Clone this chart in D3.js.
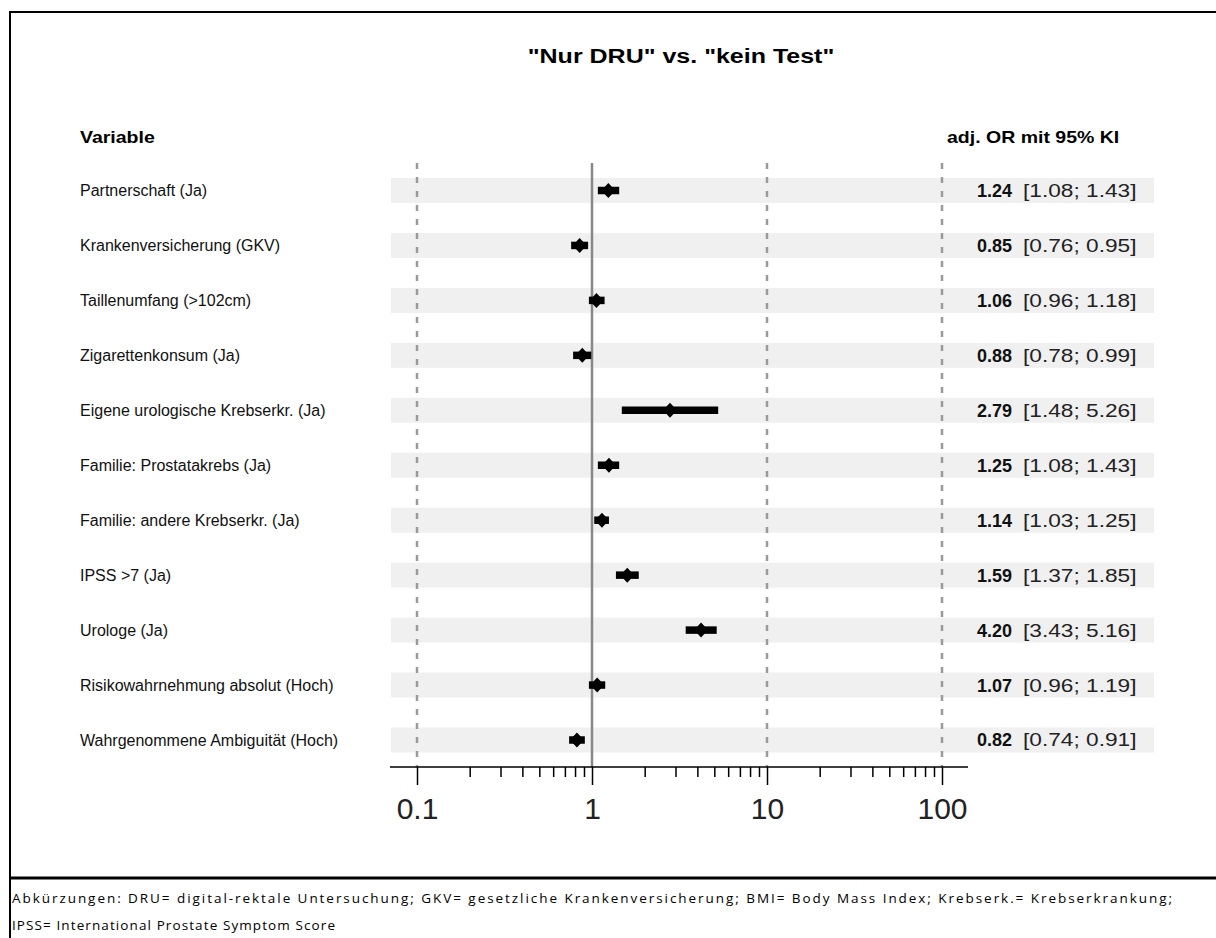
<!DOCTYPE html>
<html>
<head>
<meta charset="utf-8">
<script src="https://cdn.jsdelivr.net/npm/d3@7"></script>
<style>
  body { margin: 0; background: #fff; }
  svg { display: block; font-family: "Liberation Sans", Arial, sans-serif; }
</style>
</head>
<body>
<div id="chart"></div>
<script>
const labels = [
  "Partnerschaft (Ja)",
  "Krankenversicherung (GKV)",
  "Taillenumfang (>102cm)",
  "Zigarettenkonsum (Ja)",
  "Eigene urologische Krebserkr. (Ja)",
  "Familie: Prostatakrebs (Ja)",
  "Familie: andere Krebserkr. (Ja)",
  "IPSS >7 (Ja)",
  "Urologe (Ja)",
  "Risikowahrnehmung absolut (Hoch)",
  "Wahrgenommene Ambiguität (Hoch)"
];
const oddsRatio = [1.24, 0.85, 1.06, 0.88, 2.79, 1.25, 1.14, 1.59, 4.20, 1.07, 0.82];
const ciLower   = [1.08, 0.76, 0.96, 0.78, 1.48, 1.08, 1.03, 1.37, 3.43, 0.96, 0.74];
const ciUpper   = [1.43, 0.95, 1.18, 0.99, 5.26, 1.43, 1.25, 1.85, 5.16, 1.19, 0.91];
const majorTicks = [0.1, 1, 10, 100];
const refLines = [0.1, 10, 100];
const footnote = [
  "Abkürzungen: DRU= digital-rektale Untersuchung; GKV= gesetzliche Krankenversicherung; BMI= Body Mass Index; Krebserk.= Krebserkrankung;",
  "IPSS= International Prostate Symptom Score"
];

const width = 1216, height = 938;
const axisY = 767, plotTop = 163;

const rows = labels.map((l, i) => ({label: l, or: oddsRatio[i], lo: ciLower[i], hi: ciUpper[i]}));

const svg = d3.select("#chart").append("svg")
  .attr("width", width)
  .attr("height", height);

svg.append("rect").attr("width", width).attr("height", height).attr("fill", "#fff");

const x = d3.scaleLog().domain([0.1, 100]).range([417, 942]);
const y = d3.scalePoint().domain(labels).range([190.5, 740]);

// frame, open on the right
svg.append("path")
  .attr("d", `M${width},12 H10 V${height}`)
  .attr("fill", "none").attr("stroke", "#000").attr("stroke-width", 2);
svg.append("line")
  .attr("x1", 10).attr("x2", width).attr("y1", 878).attr("y2", 878)
  .attr("stroke", "#000").attr("stroke-width", 3);

// title + headers (the source text is drawn a bit wide)
svg.append("text")
  .attr("transform", "translate(681,63) scale(1.25,1)")
  .attr("text-anchor", "middle")
  .attr("font-size", 20).attr("font-weight", "bold")
  .text('"Nur DRU" vs. "kein Test"');
svg.append("text")
  .attr("transform", "translate(80,143) scale(1.22,1)")
  .attr("font-size", 16).attr("font-weight", "bold")
  .text("Variable");
svg.append("text")
  .attr("transform", "translate(947,143) scale(1.22,1)")
  .attr("font-size", 16).attr("font-weight", "bold")
  .text("adj. OR mit 95% KI");

// row bands
const band = svg.append("g");
band.selectAll("rect.plot").data(rows).join("rect")
  .attr("class", "plot")
  .attr("x", 391).attr("width", 968 - 391)
  .attr("y", d => y(d.label) - 12.5).attr("height", 25)
  .attr("fill", "#f0f0f0");
band.selectAll("rect.txt").data(rows).join("rect")
  .attr("class", "txt")
  .attr("x", 968).attr("width", 1154 - 968)
  .attr("y", d => y(d.label) - 12.5).attr("height", 25)
  .attr("fill", "#f0f0f0");

// reference lines
svg.selectAll("line.ref").data(refLines).join("line")
  .attr("class", "ref")
  .attr("x1", d => x(d)).attr("x2", d => x(d))
  .attr("y1", plotTop).attr("y2", axisY)
  .attr("stroke", "#9a9a9a").attr("stroke-width", 2.5)
  .attr("stroke-dasharray", "6,8");
svg.append("line")
  .attr("x1", x(1)).attr("x2", x(1))
  .attr("y1", plotTop).attr("y2", axisY)
  .attr("stroke", "#888").attr("stroke-width", 2.5);

// axis: minor ticks, then major ticks with labels
const minorTicks = [];
[0.1, 1, 10].forEach(b => { for (let k = 2; k <= 9; k++) minorTicks.push(b * k); });

svg.append("g")
  .attr("transform", `translate(0,${axisY})`)
  .call(d3.axisBottom(x).tickValues(minorTicks).tickSize(10).tickFormat(""))
  .call(g => g.select(".domain").remove())
  .call(g => g.selectAll(".tick line").attr("stroke-width", 1.5));

svg.append("g")
  .attr("transform", `translate(0,${axisY})`)
  .call(d3.axisBottom(x).tickValues(majorTicks).tickSize(18).tickPadding(13).tickFormat(d3.format("~g")))
  .call(g => g.select(".domain").remove())
  .call(g => g.selectAll(".tick line").attr("stroke-width", 1.5))
  .call(g => g.selectAll(".tick text")
    .attr("font-family", "Liberation Sans, Arial, sans-serif")
    .attr("font-size", 30).attr("fill", "#222"));

svg.append("line")
  .attr("x1", 390).attr("x2", 968)
  .attr("y1", axisY).attr("y2", axisY)
  .attr("stroke", "#000").attr("stroke-width", 1.5);

// row labels
svg.append("g").selectAll("text").data(rows).join("text")
  .attr("x", 80).attr("y", d => y(d.label))
  .attr("dy", "0.35em")
  .attr("font-size", 16).attr("fill", "#111")
  .text(d => d.label);

// CI bars + point estimate
const marks = svg.append("g");
marks.selectAll("line").data(rows).join("line")
  .attr("x1", d => x(d.lo)).attr("x2", d => x(d.hi))
  .attr("y1", d => y(d.label)).attr("y2", d => y(d.label))
  .attr("stroke", "#000").attr("stroke-width", 7.5);
marks.selectAll("path").data(rows).join("path")
  .attr("d", d => {
    const cx = x(d.or), cy = y(d.label);
    return `M${cx - 7},${cy} L${cx},${cy - 7.5} L${cx + 7},${cy} L${cx},${cy + 7.5} Z`;
  })
  .attr("fill", "#000");

// value column
const fmt = d3.format(".2f");
const vals = svg.append("g").selectAll("g").data(rows).join("g")
  .attr("transform", d => `translate(0,${y(d.label)})`);
vals.append("text")
  .attr("x", 1012).attr("dy", "0.36em")
  .attr("text-anchor", "end")
  .attr("font-size", 18).attr("font-weight", "bold").attr("fill", "#111")
  .text(d => fmt(d.or));
vals.append("text")
  .attr("transform", "translate(1023,0) scale(1.26,1)")
  .attr("dy", "0.36em")
  .attr("font-size", 18).attr("fill", "#222")
  .text(d => `[${fmt(d.lo)}; ${fmt(d.hi)}]`);

// footnote
svg.append("g").selectAll("text").data(footnote).join("text")
  .attr("x", 12).attr("y", (d, i) => 903 + i * 27)
  .attr("font-family", "Open Sans, sans-serif")
  .attr("font-size", 13.5)
  .attr("textLength", (d, i) => i === 0 ? 1160 : 323)
  .attr("lengthAdjust", "spacing")
  .text(d => d);
</script>
</body>
</html>
